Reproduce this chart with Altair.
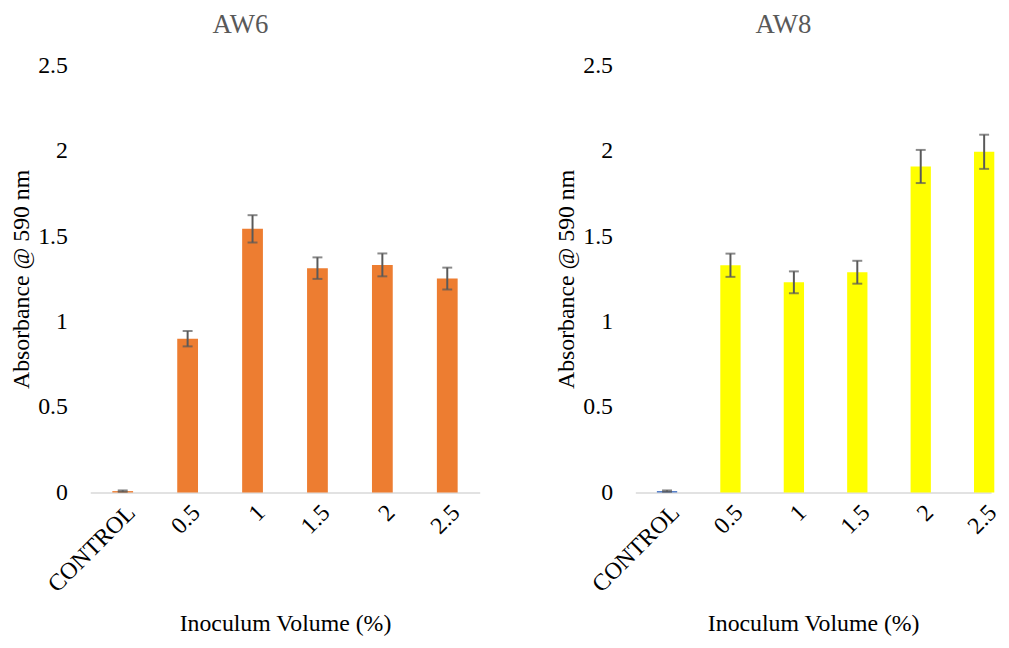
import altair as alt
import pandas as pd

categories = ["CONTROL", "0.5", "1", "1.5", "2", "2.5"]

aw6_values = [0.008, 0.90, 1.543, 1.313, 1.332, 1.252]
aw6_errors = [0.004, 0.045, 0.080, 0.063, 0.067, 0.064]
aw6_colors = ["#ED7D31", "#ED7D31", "#ED7D31", "#ED7D31", "#ED7D31", "#ED7D31"]

aw8_values = [0.008, 1.330, 1.230, 1.289, 1.908, 1.994]
aw8_errors = [0.004, 0.068, 0.064, 0.067, 0.097, 0.100]
aw8_colors = ["#4472C4", "#FFFF00", "#FFFF00", "#FFFF00", "#FFFF00", "#FFFF00"]

y_ticks = [0, 0.5, 1, 1.5, 2, 2.5]

FONT = "Liberation Serif"
BAR_FRAC = 0.32


def make_df(values, errors, colors):
    idx = list(range(len(categories)))
    return pd.DataFrame({
        "cat": categories,
        "pos": [i + 0.5 for i in idx],
        "x0": [i + 0.5 - BAR_FRAC / 2 for i in idx],
        "x1": [i + 0.5 + BAR_FRAC / 2 for i in idx],
        "value": values,
        "lo": [v - e for v, e in zip(values, errors)],
        "hi": [v + e for v, e in zip(values, errors)],
        "color": colors,
    })


label_expr = "[" + ",".join("'%s'" % c for c in categories) + "][floor(datum.value)]"


def panel(title, values, errors, colors, width, xmax, dx):
    df = make_df(values, errors, colors)
    xscale = alt.Scale(domain=[0, xmax], nice=False, zero=False)
    x = alt.X("x0:Q", scale=xscale,
              axis=alt.Axis(title="Inoculum Volume (%)", values=[i + 0.5 for i in range(len(categories))],
                            labelExpr=label_expr, labelAngle=-45,
                            labelAlign="right", labelBaseline="top",
                            labelPadding=8, ticks=False, domainColor="#D9D9D9",
                            domainWidth=1.5, titlePadding=15, grid=False,
                            labelFlush=False, labelOverlap=False,
                            labelFont=FONT, titleFont=FONT, labelFontSize=24,
                            titleFontSize=24, labelColor="#000000",
                            titleColor="#000000", titleFontWeight="normal"))
    y = alt.Y("value:Q", scale=alt.Scale(domain=[0, 2.5], nice=False),
              axis=alt.Axis(title="Absorbance @ 590 nm", values=y_ticks,
                            format="~g", domain=False, ticks=False, grid=False,
                            labelPadding=23, titlePadding=4,
                            labelFont=FONT, titleFont=FONT, labelFontSize=24,
                            titleFontSize=24, labelColor="#000000",
                            titleColor="#000000", titleFontWeight="normal"))
    base = alt.Chart(df)
    bars = base.mark_bar().encode(
        x=x, x2="x1:Q", y=y, y2=alt.datum(0),
        color=alt.Color("color:N", scale=None))
    rules = base.mark_rule(color="#595959", strokeWidth=2).encode(
        x=alt.X("pos:Q", scale=xscale), y="lo:Q", y2="hi:Q")
    caps_hi = base.mark_tick(color="#595959", thickness=2, size=10,
                             orient="horizontal").encode(
        x=alt.X("pos:Q", scale=xscale), y="hi:Q")
    caps_lo = base.mark_tick(color="#595959", thickness=2, size=10,
                             orient="horizontal").encode(
        x=alt.X("pos:Q", scale=xscale), y="lo:Q")
    return alt.layer(bars, rules, caps_hi, caps_lo).properties(
        width=width, height=431,
        title=alt.TitleParams(title, fontSize=27, font=FONT, color="#595959",
                              fontWeight="normal", dx=dx, offset=15))


left = panel("AW6", aw6_values, aw6_errors, aw6_colors, 393, 6, -45)
right = panel("AW8", aw8_values, aw8_errors, aw8_colors, 359, 359 / 64, -30)

chart = alt.hconcat(left, right, spacing=76).properties(
    padding={"left": 2, "top": 0, "right": 0, "bottom": 0}
).configure_view(stroke=None).configure_axis(
    labelFont=FONT, titleFont=FONT, labelFontSize=24, titleFontSize=24,
    labelColor="#000000", titleColor="#000000", titleFontWeight="normal"
)

chart.save("out.html", embed_options={"renderer": "svg", "actions": False})
